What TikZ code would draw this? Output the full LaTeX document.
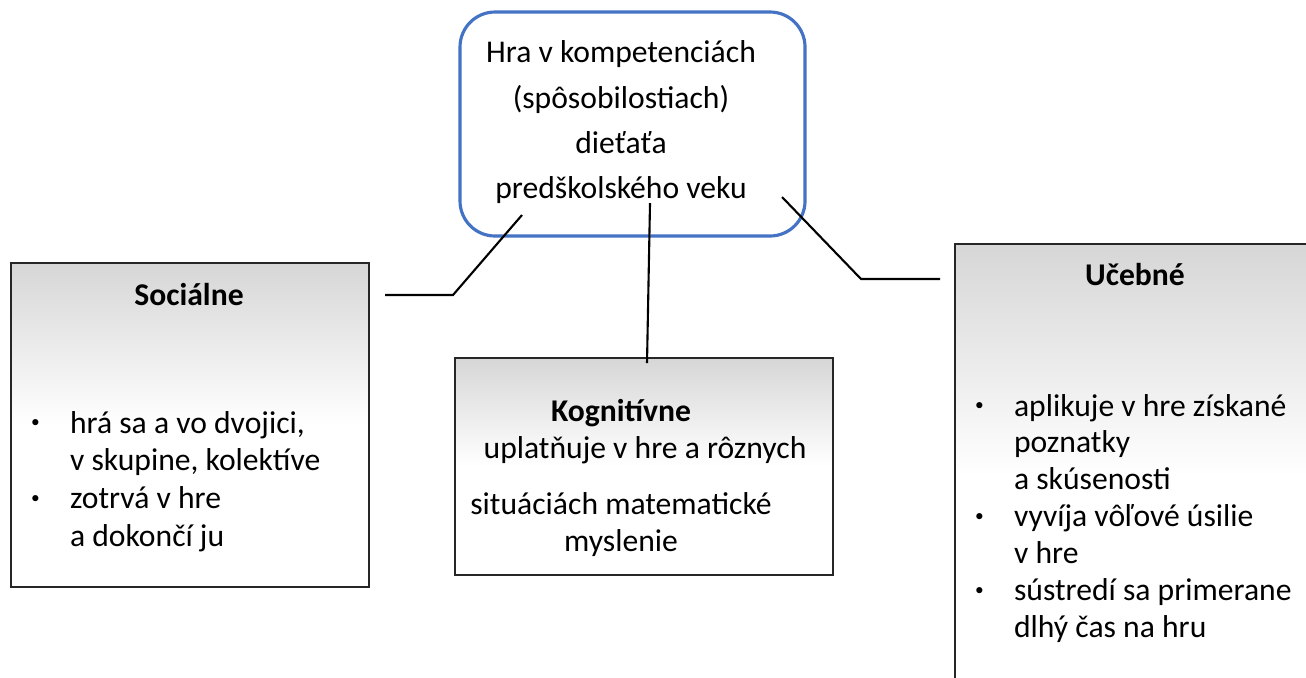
\documentclass[tikz,border=0pt]{standalone}
\usepackage{fontspec}
\setmainfont{Carlito}
\usetikzlibrary{positioning}

\definecolor{hrablue}{HTML}{4472C4}
\newcommand{\bodka}{\makebox[0.39cm][l]{\raisebox{0.35ex}{\scalebox{0.55}{\textbullet}}}}
\newcommand{\odsad}{\hspace*{0.39cm}}

\begin{document}
\begin{tikzpicture}[line width=0.6pt,
    kruh/.style={draw=hrablue, line width=0.9pt, rounded corners=0.35cm},
    oblast/.style={draw=black!85, top color=black!16, bottom color=white, middle color=white},
    zoznam/.style={align=left, inner sep=0pt, anchor=north west, font=\fontsize{9}{10.5}\selectfont},
    nadpis/.style={font=\fontsize{9}{10.6}\selectfont\bfseries}]
    \useasboundingbox (0,0) rectangle (13.06,6.77);
    \clip (0,0) rectangle (13.06,6.77);

    % stred
    \node[kruh, minimum width=3.45cm, minimum height=2.24cm] (hra) at (6.325,5.53) {};
    \node[align=center, font=\fontsize{9}{12.9}\selectfont] (hratext) at (6.21,5.545)
        {Hra v kompetenciách\\(spôsobilostiach)\\dieťaťa\\predškolského veku};

    % socialne
    \node[oblast, minimum width=3.58cm, minimum height=3.24cm] (social) at (1.90,2.52) {};
    \node[nadpis] (socialtit) at (1.89,3.82) {Sociálne};
    \node[zoznam, font=\fontsize{9}{10.8}\selectfont] (socialtxt) at (0.30,2.67)
        {\bodka hrá sa a vo dvojici,\\ \odsad v skupine, kolektíve\\ \bodka zotrvá v hre\\ \odsad a dokončí ju};

    % kognitivne
    \node[oblast, minimum width=3.78cm, minimum height=2.17cm] (kog) at (6.44,2.105) {};
    \node[align=center, font=\fontsize{9}{10.6}\selectfont] (kogtxt) at (6.21,1.99)
        {\textbf{Kognitívne}\\ \hspace*{0.48cm}uplatňuje v hre a rôznych\\[0.18cm] situáciách matematické\\ myslenie};

    % ucebne
    \node[oblast, minimum width=3.60cm, minimum height=4.64cm] (uceb) at (11.35,2.01) {};
    \node[nadpis] (ucebtit) at (11.35,4.02) {Učebné};
    \node[zoznam] (ucebtxt) at (9.74,2.84)
        {\bodka aplikuje v hre získané\\ \odsad poznatky\\ \odsad a skúsenosti\\ \bodka vyvíja vôľové úsilie\\ \odsad v hre\\ \bodka sústredí sa primerane\\ \odsad dlhý čas na hru};

    % spojnice
    \coordinate (socA) at (5.22,4.62);
    \coordinate (socB) at (4.53,3.82);
    \coordinate (socC) at (3.85,3.82);
    \coordinate (kogA) at (6.50,4.74);
    \coordinate (kogB) at (6.47,3.14);
    \coordinate (ucbA) at (7.82,4.80);
    \coordinate (ucbB) at (8.61,3.98);
    \coordinate (ucbC) at (9.40,3.98);
    \draw (socA) -- (socB) -- (socC);
    \draw (kogA) -- (kogB);
    \draw (ucbA) -- (ucbB) -- (ucbC);
\end{tikzpicture}
\end{document}
